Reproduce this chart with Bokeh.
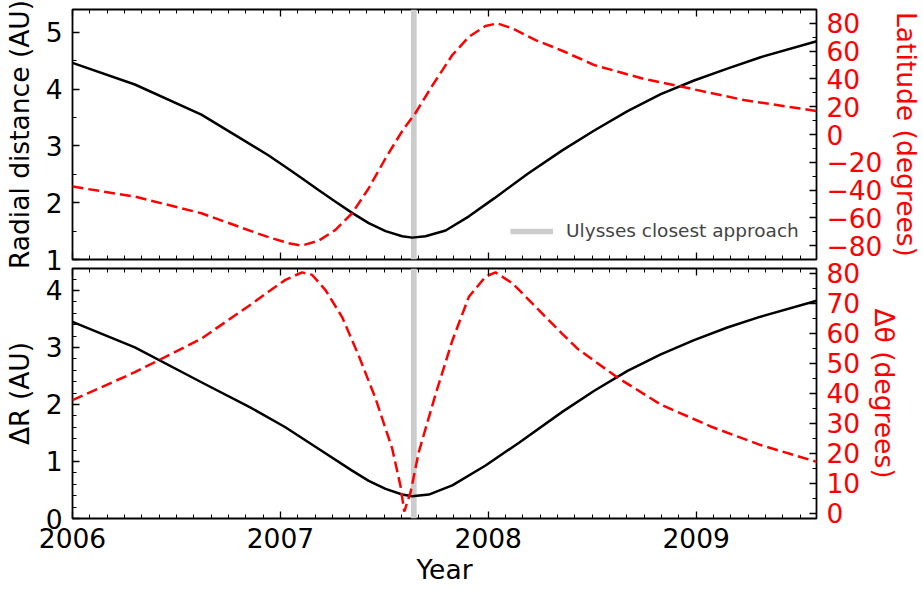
from bokeh.plotting import figure
from bokeh.models import Range1d, LinearAxis, FixedTicker, CustomJSTickFormatter
from bokeh.layouts import column
from bokeh.embed import file_html
from bokeh.resources import INLINE

FONT = "DejaVu Sans"
RED = "#ff0000"
GRAY = "#cccccc"

# ---------------- data ----------------
closest_approach = 2007.642
x_start, x_end = 2006.0, 2009.579

years_r = [2006.00, 2006.30, 2006.62, 2006.94, 2007.02, 2007.10, 2007.185, 2007.26, 2007.345,
           2007.425, 2007.506, 2007.586, 2007.634, 2007.698, 2007.795, 2007.907, 2008.03,
           2008.19, 2008.356, 2008.51, 2008.67, 2008.83, 2008.99, 2009.15, 2009.31, 2009.58]
radial = [4.46, 4.08, 3.55, 2.84, 2.64, 2.44, 2.22, 2.03, 1.82,
          1.64, 1.50, 1.41, 1.385, 1.41, 1.51, 1.76, 2.08,
          2.51, 2.92, 3.27, 3.61, 3.91, 4.15, 4.36, 4.56, 4.84]

years_lat = [2006.00, 2006.30, 2006.62, 2006.888, 2006.96, 2007.04, 2007.104, 2007.185,
             2007.265, 2007.345, 2007.425, 2007.506, 2007.586, 2007.650, 2007.730, 2007.827,
             2007.907, 2007.987, 2008.043, 2008.116, 2008.228, 2008.356, 2008.51, 2008.75,
             2008.99, 2009.23, 2009.58]
latitude = [-37.5, -44.7, -56.7, -71.1, -74.7, -78.3, -80.0, -76.4,
            -68.7, -56.7, -38.7, -17.1, 2.5, 15.5, 35.0, 57.2,
            70.4, 78.1, 80.0, 76.4, 68.0, 60.3, 50.0, 40.0,
            32.5, 24.8, 16.9]

years_dr = [2006.00, 2006.30, 2006.62, 2006.864, 2007.024, 2007.185, 2007.345, 2007.425,
            2007.506, 2007.586, 2007.634, 2007.714, 2007.827, 2007.987, 2008.148, 2008.356,
            2008.51, 2008.67, 2008.83, 2008.99, 2009.15, 2009.31, 2009.58]
delta_r = [3.45, 3.00, 2.39, 1.93, 1.60, 1.22, 0.84, 0.66,
           0.52, 0.42, 0.39, 0.42, 0.58, 0.93, 1.33, 1.87,
           2.24, 2.59, 2.88, 3.13, 3.35, 3.54, 3.82]

years_dth = [2006.00, 2006.30, 2006.62, 2006.864, 2006.944, 2007.024, 2007.104, 2007.152,
             2007.217, 2007.297, 2007.377, 2007.457, 2007.538, 2007.578, 2007.596, 2007.626,
             2007.666, 2007.746, 2007.827, 2007.907, 2007.987, 2008.035, 2008.116, 2008.228,
             2008.356, 2008.43, 2008.62, 2008.83, 2009.07, 2009.31, 2009.58]
delta_theta = [37.7, 47.0, 58.2, 69.9, 73.9, 77.8, 80.3, 79.5,
               74.4, 65.4, 52.5, 38.4, 21.5, 9.0, 0.5, 6.9,
               20.4, 39.5, 57.5, 72.2, 78.9, 80.3, 76.7, 68.8,
               59.8, 54.8, 45.3, 36.2, 28.9, 22.7, 17.1]

year_ticks = [2006, 2007, 2008, 2009]
month_ticks = [2006 + m / 12 for m in range(0, 48)]

r_range = (1.0, 5.4)
lat_range = (-90.0, 90.0)
dr_range = (0.0, 4.385)
dth_range = (-1.8, 81.6)

r_ticks = [1, 2, 3, 4, 5]
r_minor = [1 + 0.5 * i for i in range(0, 10)]
lat_ticks = [-80, -60, -40, -20, 0, 20, 40, 60, 80]
lat_minor = list(range(-90, 91, 10))
dr_ticks = [0, 1, 2, 3, 4]
dr_minor = [0.2 * i for i in range(0, 23)]
dth_ticks = [0, 10, 20, 30, 40, 50, 60, 70, 80]
dth_minor = list(range(0, 85, 5))

FRAME_W = 744
FRAME_H = 250
FS = "26.5px"


def style_axis(ax, labels=True, color="black"):
    ax.major_tick_in = 7
    ax.major_tick_out = 0
    ax.minor_tick_in = 4
    ax.minor_tick_out = 0
    ax.major_tick_line_width = 1.3
    ax.minor_tick_line_width = 1.0
    ax.major_tick_line_color = "black"
    ax.minor_tick_line_color = "black"
    ax.axis_line_color = None
    ax.major_label_text_font = FONT
    ax.axis_label_text_font = FONT
    ax.axis_label_text_font_style = "normal"
    ax.axis_label_text_font_size = FS
    ax.major_label_text_color = color
    ax.axis_label_text_color = color
    if labels:
        ax.major_label_text_font_size = FS
        ax.major_label_standoff = 10
        ax.axis_label_standoff = 9
    else:
        ax.major_label_text_font_size = "0px"
        ax.major_label_standoff = 0
        ax.axis_label_standoff = 0
        ax.formatter = CustomJSTickFormatter(code="return ''")


def make_panel(y_rng, extra_rng, yt, ym, et, em, ylabel, elabel, show_x, mb_top, mb_bottom):
    p = figure(frame_width=FRAME_W, frame_height=FRAME_H,
               x_range=Range1d(x_start, x_end), y_range=Range1d(*y_rng),
               x_axis_type=None, y_axis_type=None,
               output_backend="svg", toolbar_location=None,
               min_border_left=63, min_border_right=0,
               min_border_top=mb_top, min_border_bottom=mb_bottom,
               background_fill_color="white", border_fill_alpha=0)
    p.extra_y_ranges = {"sec": Range1d(*extra_rng)}
    p.outline_line_color = "black"
    p.outline_line_width = 1.8
    p.outline_line_alpha = 1.0

    left = LinearAxis(ticker=FixedTicker(ticks=yt, minor_ticks=ym), axis_label=ylabel)
    style_axis(left)
    left.axis_label_standoff = 8
    p.add_layout(left, "left")

    right = LinearAxis(y_range_name="sec", ticker=FixedTicker(ticks=et, minor_ticks=em),
                       axis_label=elabel)
    style_axis(right, color=RED)
    right.axis_label_standoff = 6
    right.major_label_overrides = {t: (("\u2212" + str(-t)) if t < 0 else str(t)) for t in et}
    p.add_layout(right, "right")

    top = LinearAxis(ticker=FixedTicker(ticks=year_ticks, minor_ticks=month_ticks))
    style_axis(top, labels=False)
    p.add_layout(top, "above")

    bottom = LinearAxis(ticker=FixedTicker(ticks=year_ticks, minor_ticks=month_ticks),
                        axis_label="Year" if show_x else None)
    style_axis(bottom, labels=show_x)
    if show_x:
        bottom.major_label_standoff = 9
        bottom.axis_label_standoff = 3
    p.add_layout(bottom, "below")
    return p


p1 = make_panel(r_range, lat_range, r_ticks, r_minor, lat_ticks, lat_minor,
                "Radial distance (AU)", "Latitude (degrees)", False, 9, 20)
p2 = make_panel(dr_range, dth_range, dr_ticks, dr_minor, dth_ticks, dth_minor,
                "\u0394R (AU)", "\u0394\u03b8 (degrees)", True, 20, 0)
# let the lower panel overlap the upper one's bottom border so frames sit 9 px apart
p2.margin = (-31, 0, 0, 0)

# closest-approach marker (drawn first, underneath the curves)
p1.line(x=[closest_approach, closest_approach], y=list(r_range), line_width=5.7,
        line_color=GRAY, legend_label="Ulysses closest approach")
p2.line(x=[closest_approach, closest_approach], y=list(dr_range), line_width=5.7,
        line_color=GRAY)

p1.line(years_r, radial, line_color="black", line_width=2.5)
p1.line(years_lat, latitude, y_range_name="sec", line_color=RED, line_width=2.5,
        line_dash="11 5")

p2.line(years_dr, delta_r, line_color="black", line_width=2.5)
p2.line(years_dth, delta_theta, y_range_name="sec", line_color=RED, line_width=2.5,
        line_dash="11 5")

lg = p1.legend[0]
lg.location = (438, 18)   # bottom-left corner of the legend, px from the frame's bottom-left
lg.border_line_color = None
lg.background_fill_alpha = 0
lg.label_text_font = FONT
lg.label_text_font_size = "18.5px"
lg.glyph_width = 43
lg.glyph_height = 16
lg.label_height = 16
lg.label_standoff = 13
lg.padding = 0
lg.margin = 0
lg.spacing = 0

layout = column(p1, p2, spacing=0)

open("out.html", "w").write(file_html(layout, INLINE))
